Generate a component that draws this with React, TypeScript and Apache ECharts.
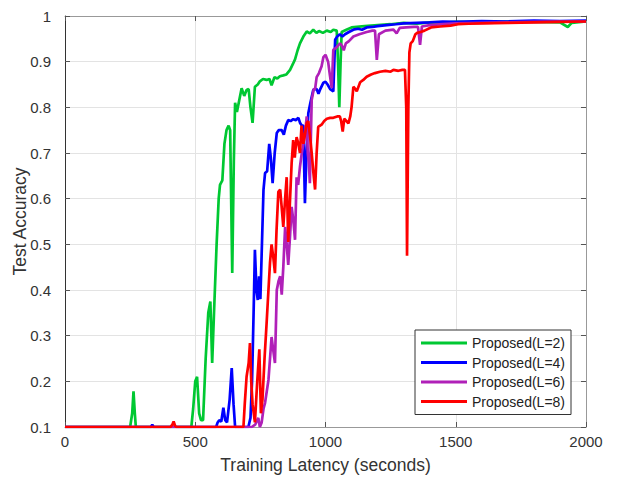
import React, { useEffect, useRef } from "react";
import * as echarts from "echarts";

const seriesNames = ["Proposed(L=2)", "Proposed(L=4)", "Proposed(L=6)", "Proposed(L=8)"];
const seriesColors = ["#00c832", "#0000ff", "#b020b8", "#ff0000"];

const xTicks = { min: 0, max: 2000, interval: 500 };
const yTicks = { min: 0.1, max: 1, interval: 0.1 };

const greenL2: [number, number][] = [
  [0, 0.1], [250, 0.1], [258, 0.13], [263, 0.178], [268, 0.13], [272, 0.1], [485, 0.1], [492, 0.14],
  [500, 0.2], [507, 0.21], [515, 0.13], [522, 0.115], [530, 0.115], [540, 0.25], [550, 0.35], [558, 0.375],
  [565, 0.24], [572, 0.35], [582, 0.5], [590, 0.6], [595, 0.63], [604, 0.64], [612, 0.72], [620, 0.75],
  [628, 0.76], [634, 0.75], [642, 0.437], [648, 0.68], [653, 0.81], [660, 0.79], [667, 0.81], [678, 0.842],
  [688, 0.825], [697, 0.838], [705, 0.84], [712, 0.8], [720, 0.766], [729, 0.845], [740, 0.85], [748, 0.857],
  [760, 0.862], [774, 0.86], [785, 0.862], [793, 0.848], [804, 0.866], [815, 0.863], [825, 0.868], [838, 0.87],
  [850, 0.872], [864, 0.882], [875, 0.895], [883, 0.905], [893, 0.925], [902, 0.94], [915, 0.955], [928, 0.966],
  [940, 0.962], [953, 0.97], [965, 0.963], [975, 0.967], [990, 0.963], [1005, 0.968], [1020, 0.965], [1030, 0.97],
  [1043, 0.968], [1048, 0.9], [1053, 0.8], [1058, 0.9], [1062, 0.965], [1080, 0.97], [1100, 0.975], [1150, 0.978],
  [1200, 0.98], [1250, 0.982], [1300, 0.985], [1350, 0.983], [1400, 0.986], [1450, 0.985], [1500, 0.987],
  [1600, 0.986], [1700, 0.988], [1800, 0.987], [1900, 0.986], [1930, 0.976], [1945, 0.985], [2000, 0.988],
];

const blueL4: [number, number][] = [
  [0, 0.1], [330, 0.1], [335, 0.105], [340, 0.1], [580, 0.1], [586, 0.11], [592, 0.115], [600, 0.112],
  [608, 0.142], [615, 0.115], [622, 0.11], [632, 0.16], [640, 0.229], [647, 0.15], [653, 0.1], [704, 0.1],
  [712, 0.12], [718, 0.2], [724, 0.35], [729, 0.488], [735, 0.4], [740, 0.378], [745, 0.43], [750, 0.38],
  [756, 0.5], [762, 0.62], [768, 0.656], [776, 0.66], [784, 0.72], [790, 0.69], [797, 0.634], [805, 0.7],
  [813, 0.744], [820, 0.75], [832, 0.75], [840, 0.74], [848, 0.76], [857, 0.772], [866, 0.77], [876, 0.774],
  [886, 0.772], [896, 0.777], [903, 0.765], [909, 0.76], [915, 0.76], [921, 0.59], [927, 0.7], [934, 0.787],
  [942, 0.81], [953, 0.838], [960, 0.84], [966, 0.84], [973, 0.83], [980, 0.84], [992, 0.854], [1000, 0.856],
  [1008, 0.85], [1018, 0.84], [1030, 0.835], [1037, 0.948], [1045, 0.955], [1055, 0.96], [1065, 0.955],
  [1075, 0.96], [1090, 0.965], [1107, 0.97], [1125, 0.972], [1140, 0.97], [1158, 0.975], [1180, 0.976],
  [1200, 0.978], [1235, 0.98], [1270, 0.982], [1300, 0.984], [1350, 0.985], [1400, 0.986], [1450, 0.988],
  [1500, 0.987], [1600, 0.989], [1700, 0.988], [1800, 0.99], [1900, 0.989], [2000, 0.99],
];

const purpleL6: [number, number][] = [
  [0, 0.1], [697, 0.1], [717, 0.1], [730, 0.105], [742, 0.12], [748, 0.1], [755, 0.11], [762, 0.14],
  [768, 0.153], [775, 0.18], [781, 0.203], [787, 0.25], [793, 0.297], [799, 0.27], [806, 0.24], [813, 0.4],
  [820, 0.42], [826, 0.43], [832, 0.39], [838, 0.45], [845, 0.538], [851, 0.5], [857, 0.455], [864, 0.52],
  [870, 0.582], [877, 0.55], [883, 0.51], [889, 0.647], [895, 0.63], [902, 0.67], [909, 0.7], [915, 0.72],
  [921, 0.74], [928, 0.78], [932, 0.7], [936, 0.68], [940, 0.634], [947, 0.816], [955, 0.84], [960, 0.84],
  [966, 0.866], [975, 0.875], [985, 0.89], [992, 0.91], [1000, 0.915], [1010, 0.9], [1017, 0.87], [1024, 0.842],
  [1030, 0.926], [1040, 0.93], [1048, 0.935], [1056, 0.94], [1063, 0.935], [1070, 0.925], [1078, 0.94],
  [1090, 0.945], [1107, 0.955], [1130, 0.96], [1158, 0.965], [1180, 0.968], [1190, 0.968], [1197, 0.904],
  [1205, 0.96], [1230, 0.968], [1261, 0.97], [1273, 0.962], [1285, 0.974], [1310, 0.975], [1340, 0.976],
  [1355, 0.976], [1363, 0.937], [1370, 0.977], [1400, 0.98], [1450, 0.982], [1500, 0.984], [1600, 0.985],
  [1700, 0.986], [1800, 0.987], [1900, 0.988], [2000, 0.988],
];

const redL8: [number, number][] = [
  [0, 0.1], [405, 0.1], [412, 0.105], [417, 0.112], [423, 0.102], [428, 0.1], [685, 0.1], [690, 0.15],
  [697, 0.21], [705, 0.24], [710, 0.284], [715, 0.2], [720, 0.15], [729, 0.11], [738, 0.2], [746, 0.27],
  [752, 0.13], [758, 0.16], [766, 0.25], [774, 0.328], [781, 0.4], [787, 0.46], [793, 0.5], [800, 0.47],
  [806, 0.437], [812, 0.53], [819, 0.615], [826, 0.62], [832, 0.58], [838, 0.538], [845, 0.6], [851, 0.647],
  [857, 0.505], [864, 0.6], [870, 0.678], [876, 0.728], [882, 0.69], [889, 0.735], [896, 0.72], [902, 0.7],
  [908, 0.76], [915, 0.72], [921, 0.74], [928, 0.766], [934, 0.77], [940, 0.74], [947, 0.7], [953, 0.66],
  [960, 0.62], [966, 0.7], [972, 0.757], [985, 0.762], [995, 0.77], [1005, 0.775], [1018, 0.777],
  [1030, 0.777], [1045, 0.78], [1055, 0.78], [1060, 0.77], [1066, 0.747], [1072, 0.775], [1080, 0.77],
  [1088, 0.765], [1095, 0.78], [1100, 0.8], [1107, 0.845], [1115, 0.84], [1120, 0.835], [1133, 0.855],
  [1145, 0.86], [1158, 0.867], [1175, 0.872], [1190, 0.875], [1209, 0.878], [1230, 0.88], [1250, 0.878],
  [1261, 0.882], [1280, 0.88], [1295, 0.882], [1305, 0.882], [1310, 0.8], [1313, 0.475], [1318, 0.8],
  [1322, 0.92], [1327, 0.94], [1335, 0.945], [1345, 0.96], [1352, 0.963], [1365, 0.965], [1380, 0.968],
  [1405, 0.975], [1440, 0.977], [1480, 0.979], [1509, 0.982], [1550, 0.983], [1600, 0.984], [1700, 0.985],
  [1800, 0.986], [1900, 0.987], [2000, 0.988],
];

const seriesData = [greenL2, blueL4, purpleL6, redL8];

const FONT = "'Liberation Sans', Arial, sans-serif";

export default function App() {
  const ref = useRef<HTMLDivElement>(null);

  useEffect(() => {
    if (!ref.current) return;
    const chart = echarts.init(ref.current, undefined, { renderer: "svg" });

    const tickStyle = { inside: true, length: 5, lineStyle: { color: "#555" } };

    chart.setOption({
      animation: false,
      backgroundColor: "#ffffff",
      textStyle: { fontFamily: FONT },
      grid: {
        left: 65,
        right: 36,
        top: 16,
        bottom: 52,
        containLabel: false,
        outerBoundsMode: "none",
      },
      legend: {
        data: seriesNames,
        orient: "vertical",
        left: 415,
        top: 330,
        icon: "rect",
        itemWidth: 46,
        itemHeight: 3,
        itemGap: 5.5,
        padding: [6, 6, 6, 6],
        backgroundColor: "#ffffff",
        borderColor: "#333333",
        borderWidth: 1,
        textStyle: { fontSize: 14, color: "#222", fontFamily: FONT },
      },
      xAxis: [
        {
          type: "value",
          min: xTicks.min,
          max: xTicks.max,
          interval: xTicks.interval,
          name: "Training Latency (seconds)",
          nameLocation: "middle",
          nameGap: 29,
          nameMoveOverlap: false,
          nameTextStyle: { fontSize: 17.5, color: "#333", fontFamily: FONT },
          axisLine: { show: true, onZero: false, lineStyle: { color: "#999", width: 1 } },
          axisTick: tickStyle,
          axisLabel: {
            fontSize: 15,
            color: "#333",
            margin: 7,
            fontFamily: FONT,
            formatter: (v: number) => String(v),
          },
          splitLine: { show: true, lineStyle: { color: "#e3e3e3", width: 1 } },
        },
        {
          type: "value",
          position: "top",
          min: xTicks.min,
          max: xTicks.max,
          interval: xTicks.interval,
          axisLine: { show: true, onZero: false, lineStyle: { color: "#999", width: 1 } },
          axisTick: tickStyle,
          axisLabel: { show: false },
          splitLine: { show: false },
        },
      ],
      yAxis: [
        {
          type: "value",
          min: yTicks.min,
          max: yTicks.max,
          interval: yTicks.interval,
          name: "Test Accuracy",
          nameLocation: "middle",
          nameGap: 36,
          nameMoveOverlap: false,
          nameTextStyle: { fontSize: 17.5, color: "#333", fontFamily: FONT },
          axisLine: { show: true, onZero: false, lineStyle: { color: "#333", width: 1 } },
          axisTick: tickStyle,
          axisLabel: {
            fontSize: 15,
            color: "#333",
            margin: 14,
            fontFamily: FONT,
            formatter: (v: number) => (Math.abs(v - 1) < 1e-9 ? "1" : v.toFixed(1)),
          },
          splitLine: { show: true, lineStyle: { color: "#e3e3e3", width: 1 } },
        },
        {
          type: "value",
          position: "right",
          min: yTicks.min,
          max: yTicks.max,
          interval: yTicks.interval,
          axisLine: { show: true, onZero: false, lineStyle: { color: "#999", width: 1 } },
          axisTick: tickStyle,
          axisLabel: { show: false },
          splitLine: { show: false },
        },
      ],
      series: seriesNames.map((name, i) => ({
        name,
        type: "line",
        xAxisIndex: 0,
        yAxisIndex: 0,
        data: seriesData[i],
        showSymbol: false,
        symbol: "none",
        lineStyle: { color: seriesColors[i], width: 2.7 },
        itemStyle: { color: seriesColors[i] },
        z: 2 + i,
      })),
    });

    return () => chart.dispose();
  }, []);

  return (
    <div
      ref={ref}
      style={{ position: "fixed", left: 0, top: 0, width: 622, height: 479, background: "#fff" }}
    />
  );
}
